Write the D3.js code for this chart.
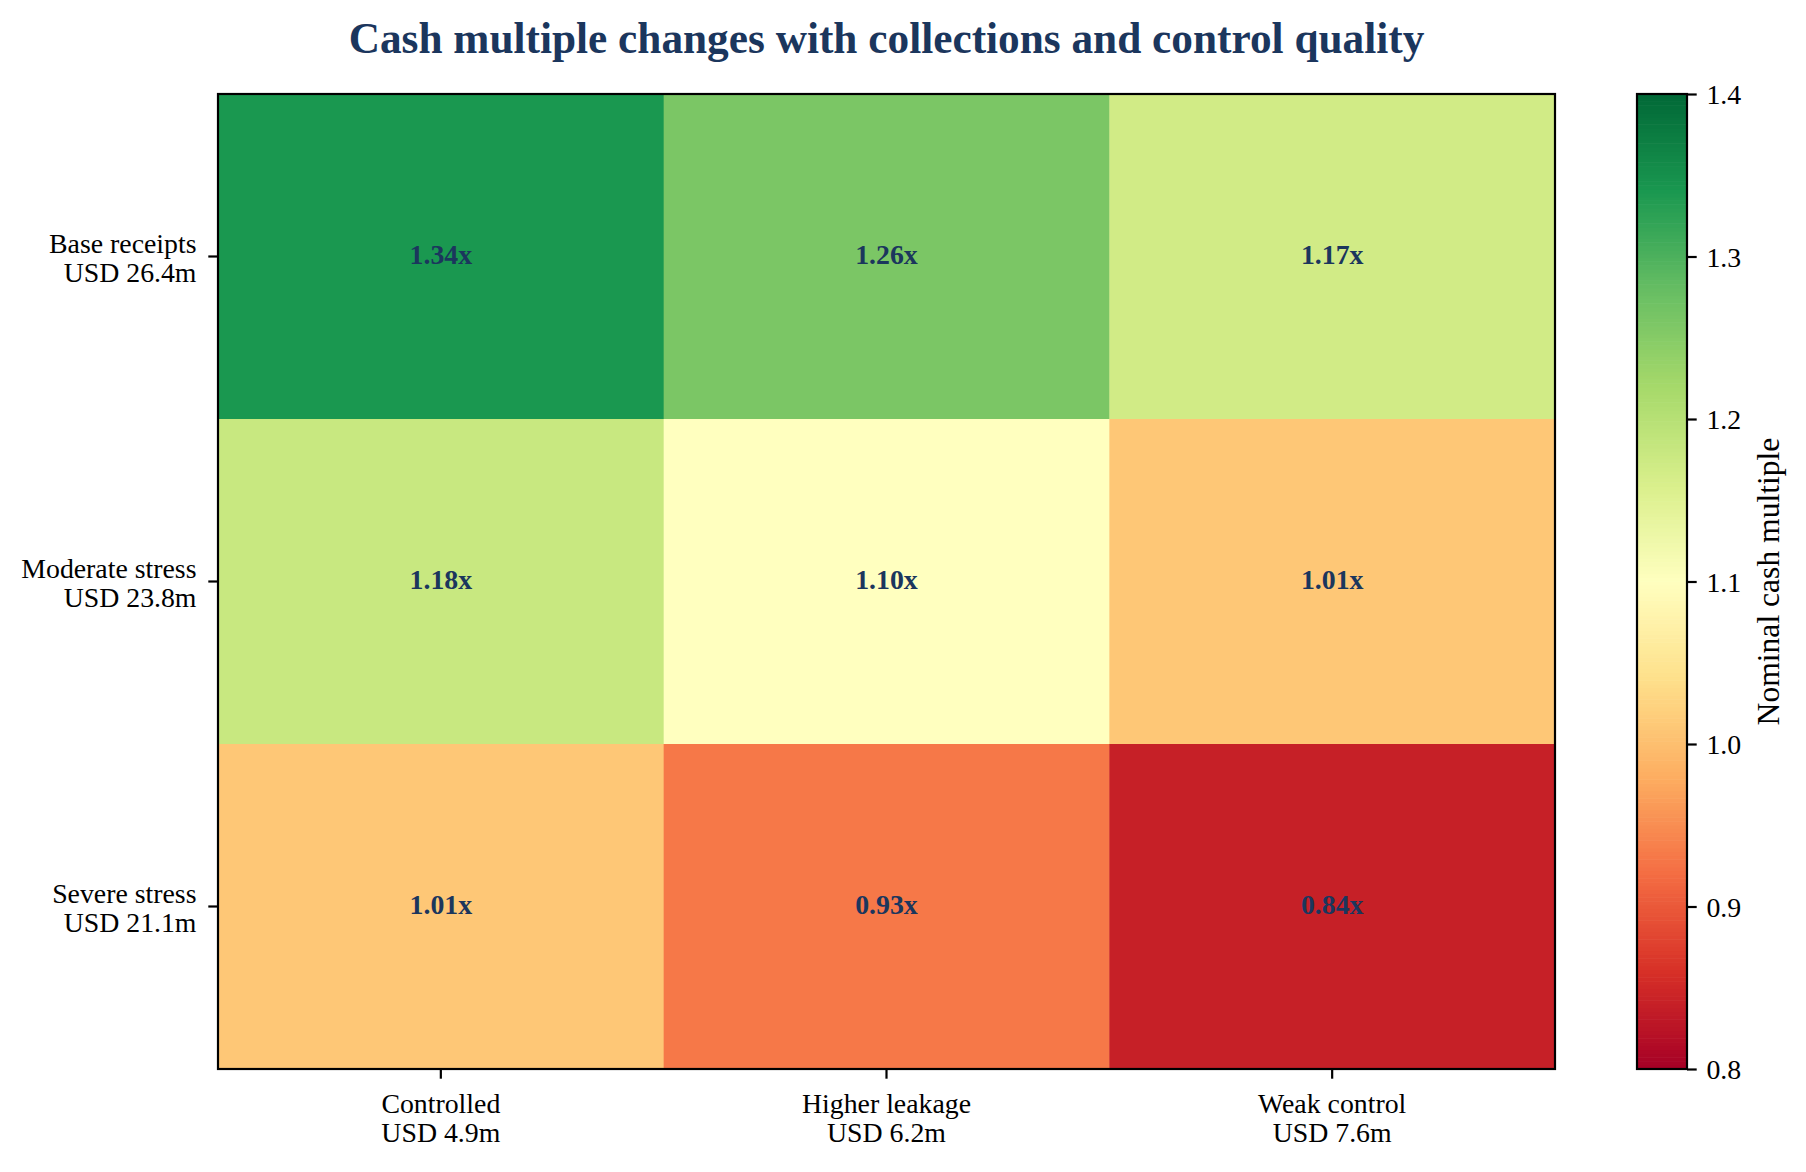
<!DOCTYPE html>
<html>
<head>
<meta charset="utf-8">
<script src="https://cdn.jsdelivr.net/npm/d3@7"></script>
<style>
  body { margin: 0; background: #fff; }
  text { font-family: "Liberation Serif", "Times New Roman", serif; }
</style>
</head>
<body>
<div class="heatmap"></div>
<script>
// chart data
const rowLabels = ["Base receipts", "Moderate stress", "Severe stress"];
const rowAmounts = ["USD 26.4m", "USD 23.8m", "USD 21.1m"];
const colLabels = ["Controlled", "Higher leakage", "Weak control"];
const colAmounts = ["USD 4.9m", "USD 6.2m", "USD 7.6m"];
const multiples = [
  [1.34, 1.26, 1.17],
  [1.18, 1.10, 1.01],
  [1.01, 0.93, 0.84]
];
const colorDomain = [0.8, 1.4];
const colorTicks = [0.8, 0.9, 1.0, 1.1, 1.2, 1.3, 1.4];

// RdYlGn stops (matplotlib / ColorBrewer 11)
const rdylgn = ["#a50026", "#d73027", "#f46d43", "#fdae61", "#fee08b", "#ffffbf",
                "#d9ef8b", "#a6d96a", "#66bd63", "#1a9850", "#006837"];

const W = 1806, H = 1172;
const plot = {left: 218, right: 1555, top: 94, bottom: 1069};
const cbar = {left: 1637, right: 1687};
const fs = 27.8, navy = "#1b365d";

const svg = d3.select(".heatmap")
  .append("svg")
    .attr("width", W)
    .attr("height", H);

const colorT = d3.scaleLinear()
  .domain(d3.range(rdylgn.length).map(i => colorDomain[0] + (colorDomain[1] - colorDomain[0]) * i / (rdylgn.length - 1)))
  .range(rdylgn)
  .interpolate(d3.interpolateRgb)
  .clamp(true);

const x = d3.scaleBand().domain(d3.range(colLabels.length)).range([plot.left, plot.right]);
const y = d3.scaleBand().domain(d3.range(rowLabels.length)).range([plot.top, plot.bottom]);

const cells = multiples.flatMap((row, i) => row.map((v, j) => ({r: i, c: j, v: v})));

svg.append("g").selectAll("rect")
  .data(cells)
  .join("rect")
    .attr("x", d => x(d.c))
    .attr("y", d => y(d.r))
    .attr("width", x.bandwidth() + 0.5)
    .attr("height", y.bandwidth() + 0.5)
    .attr("fill", d => colorT(d.v));

svg.append("g").selectAll("text")
  .data(cells)
  .join("text")
    .attr("x", d => x(d.c) + x.bandwidth() / 2)
    .attr("y", d => y(d.r) + y.bandwidth() / 2 + 7)
    .attr("text-anchor", "middle")
    .attr("font-weight", "bold")
    .attr("font-size", fs)
    .attr("fill", navy)
    .text(d => d.v.toFixed(2) + "x");

// frame
svg.append("rect")
  .attr("x", plot.left).attr("y", plot.top)
  .attr("width", plot.right - plot.left).attr("height", plot.bottom - plot.top)
  .attr("fill", "none").attr("stroke", "#000").attr("stroke-width", 2.2);

// x axis
const xAxis = svg.append("g")
  .attr("transform", `translate(0,${plot.bottom})`)
  .call(d3.axisBottom(x).tickSize(9.7).tickFormat(""));
xAxis.select(".domain").remove();
xAxis.selectAll(".tick line").attr("stroke-width", 2.2);
xAxis.selectAll(".tick").append("text")
  .attr("fill", "#000")
  .attr("font-size", fs)
  .attr("text-anchor", "middle")
  .each(function(d) {
    const t = d3.select(this);
    t.append("tspan").attr("x", 0).attr("y", 43.7).text(colLabels[d]);
    t.append("tspan").attr("x", 0).attr("y", 72.7).text(colAmounts[d]);
  });

// y axis
const yAxis = svg.append("g")
  .attr("transform", `translate(${plot.left},0)`)
  .call(d3.axisLeft(y).tickSize(9.7).tickFormat(""));
yAxis.select(".domain").remove();
yAxis.selectAll(".tick line").attr("stroke-width", 2.2);
yAxis.selectAll(".tick").append("text")
  .attr("fill", "#000")
  .attr("font-size", fs)
  .attr("text-anchor", "end")
  .each(function(d) {
    const t = d3.select(this);
    t.append("tspan").attr("x", -21.5).attr("y", -3.3).text(rowLabels[d]);
    t.append("tspan").attr("x", -21.5).attr("y", 25).text(rowAmounts[d]);
  });

// colorbar
const yc = d3.scaleLinear().domain(colorDomain).range([plot.bottom, plot.top]);
const steps = d3.range(256).map(i => colorDomain[0] + (colorDomain[1] - colorDomain[0]) * (i + 0.5) / 256);
const stepH = (plot.bottom - plot.top) / 256;
svg.append("g").selectAll("rect")
  .data(steps)
  .join("rect")
    .attr("x", cbar.left)
    .attr("y", d => yc(d) - stepH / 2 - 0.3)
    .attr("width", cbar.right - cbar.left)
    .attr("height", stepH + 0.6)
    .attr("fill", d => colorT(d));
svg.append("rect")
  .attr("x", cbar.left).attr("y", plot.top)
  .attr("width", cbar.right - cbar.left).attr("height", plot.bottom - plot.top)
  .attr("fill", "none").attr("stroke", "#000").attr("stroke-width", 2.2);

const cAxis = svg.append("g")
  .attr("transform", `translate(${cbar.right},0)`)
  .call(d3.axisRight(yc).tickValues(colorTicks).tickSize(9.7).tickPadding(9.7).tickFormat(d3.format(".1f")));
cAxis.select(".domain").remove();
cAxis.selectAll(".tick line").attr("stroke-width", 2.2);
cAxis.selectAll(".tick text")
  .attr("font-size", fs)
  .attr("font-family", "Liberation Serif, Times New Roman, serif")
  .attr("dy", "0.35em")
  .attr("fill", "#000");

svg.append("text")
  .attr("transform", `translate(1779,${(plot.top + plot.bottom) / 2}) rotate(-90)`)
  .attr("text-anchor", "middle")
  .attr("font-size", 31.6)
  .attr("fill", "#000")
  .text("Nominal cash multiple");

// title
svg.append("text")
  .attr("x", (plot.left + plot.right) / 2)
  .attr("y", 52.7)
  .attr("text-anchor", "middle")
  .attr("font-size", 43.3)
  .attr("font-weight", "bold")
  .attr("fill", navy)
  .text("Cash multiple changes with collections and control quality");
</script>
</body>
</html>
